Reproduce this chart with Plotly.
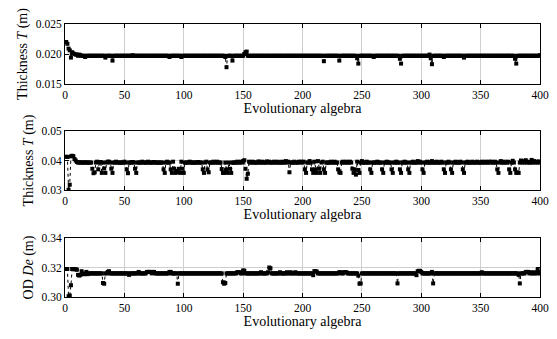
import plotly.graph_objects as go

# Panel 1: Thickness T (m), generations 1..400
thickness_t1 = [
    0.0220, 0.0217, 0.0209, 0.0206, 0.0194, 0.0203, 0.0201, 0.0200, 0.0199, 0.0199,
    0.0197, 0.0199, 0.0198, 0.0197, 0.0197, 0.0197, 0.0195, 0.0197, 0.0197, 0.0197,
    0.0197, 0.0197, 0.0197, 0.0197, 0.0197, 0.0197, 0.0197, 0.0197, 0.0197, 0.0197,
    0.0197, 0.0197, 0.0197, 0.0194, 0.0197, 0.0197, 0.0197, 0.0197, 0.0197, 0.0189,
    0.0197, 0.0197, 0.0197, 0.0197, 0.0197, 0.0197, 0.0197, 0.0197, 0.0197, 0.0197,
    0.0197, 0.0197, 0.0197, 0.0197, 0.0197, 0.0197, 0.0198, 0.0197, 0.0197, 0.0197,
    0.0197, 0.0197, 0.0197, 0.0197, 0.0197, 0.0197, 0.0197, 0.0197, 0.0197, 0.0197,
    0.0197, 0.0197, 0.0197, 0.0197, 0.0197, 0.0197, 0.0197, 0.0197, 0.0197, 0.0197,
    0.0197, 0.0197, 0.0197, 0.0197, 0.0197, 0.0197, 0.0197, 0.0195, 0.0197, 0.0197,
    0.0197, 0.0197, 0.0197, 0.0197, 0.0197, 0.0197, 0.0197, 0.0195, 0.0197, 0.0197,
    0.0197, 0.0197, 0.0197, 0.0197, 0.0197, 0.0197, 0.0197, 0.0197, 0.0197, 0.0197,
    0.0197, 0.0197, 0.0197, 0.0197, 0.0197, 0.0197, 0.0197, 0.0197, 0.0197, 0.0197,
    0.0197, 0.0197, 0.0197, 0.0197, 0.0197, 0.0197, 0.0197, 0.0197, 0.0197, 0.0197,
    0.0197, 0.0197, 0.0197, 0.0197, 0.0195, 0.0178, 0.0197, 0.0197, 0.0197, 0.0197,
    0.0189, 0.0197, 0.0197, 0.0197, 0.0197, 0.0197, 0.0197, 0.0197, 0.0197, 0.0197,
    0.0200, 0.0203, 0.0204, 0.0197, 0.0197, 0.0197, 0.0197, 0.0197, 0.0197, 0.0197,
    0.0197, 0.0197, 0.0197, 0.0197, 0.0197, 0.0197, 0.0197, 0.0197, 0.0197, 0.0197,
    0.0197, 0.0197, 0.0197, 0.0197, 0.0197, 0.0197, 0.0197, 0.0197, 0.0197, 0.0197,
    0.0197, 0.0197, 0.0197, 0.0197, 0.0197, 0.0197, 0.0197, 0.0197, 0.0197, 0.0197,
    0.0197, 0.0197, 0.0197, 0.0197, 0.0197, 0.0197, 0.0197, 0.0197, 0.0197, 0.0197,
    0.0197, 0.0197, 0.0197, 0.0197, 0.0197, 0.0197, 0.0197, 0.0197, 0.0197, 0.0197,
    0.0197, 0.0197, 0.0197, 0.0197, 0.0197, 0.0197, 0.0197, 0.0188, 0.0197, 0.0197,
    0.0197, 0.0197, 0.0197, 0.0197, 0.0197, 0.0197, 0.0197, 0.0197, 0.0197, 0.0197,
    0.0189, 0.0197, 0.0197, 0.0197, 0.0197, 0.0197, 0.0197, 0.0197, 0.0197, 0.0197,
    0.0197, 0.0197, 0.0197, 0.0197, 0.0197, 0.0193, 0.0184, 0.0197, 0.0197, 0.0197,
    0.0197, 0.0197, 0.0197, 0.0197, 0.0197, 0.0197, 0.0197, 0.0197, 0.0197, 0.0195,
    0.0197, 0.0197, 0.0197, 0.0197, 0.0197, 0.0197, 0.0197, 0.0197, 0.0197, 0.0197,
    0.0197, 0.0197, 0.0197, 0.0197, 0.0197, 0.0197, 0.0197, 0.0197, 0.0197, 0.0197,
    0.0197, 0.0192, 0.0184, 0.0197, 0.0197, 0.0197, 0.0197, 0.0197, 0.0197, 0.0197,
    0.0197, 0.0197, 0.0197, 0.0197, 0.0197, 0.0197, 0.0197, 0.0197, 0.0197, 0.0197,
    0.0197, 0.0197, 0.0197, 0.0197, 0.0197, 0.0197, 0.0199, 0.0193, 0.0183, 0.0197,
    0.0197, 0.0197, 0.0197, 0.0197, 0.0197, 0.0197, 0.0197, 0.0197, 0.0195, 0.0197,
    0.0197, 0.0197, 0.0197, 0.0197, 0.0197, 0.0197, 0.0197, 0.0197, 0.0197, 0.0197,
    0.0197, 0.0197, 0.0197, 0.0197, 0.0197, 0.0194, 0.0197, 0.0197, 0.0197, 0.0197,
    0.0197, 0.0197, 0.0197, 0.0197, 0.0197, 0.0197, 0.0197, 0.0197, 0.0197, 0.0197,
    0.0197, 0.0197, 0.0197, 0.0197, 0.0197, 0.0197, 0.0197, 0.0197, 0.0197, 0.0197,
    0.0197, 0.0197, 0.0197, 0.0197, 0.0197, 0.0197, 0.0197, 0.0197, 0.0197, 0.0197,
    0.0197, 0.0197, 0.0197, 0.0197, 0.0197, 0.0197, 0.0197, 0.0197, 0.0192, 0.0184,
    0.0197, 0.0197, 0.0197, 0.0197, 0.0197, 0.0197, 0.0197, 0.0197, 0.0197, 0.0197,
    0.0197, 0.0197, 0.0197, 0.0197, 0.0197, 0.0197, 0.0197, 0.0197, 0.0197, 0.0198,
]

# Panel 2: Thickness T (m)
thickness_t2 = [
    0.0413, 0.0412, 0.0301, 0.0318, 0.0414, 0.0416, 0.0415, 0.0405, 0.0400, 0.0395,
    0.0393, 0.0393, 0.0394, 0.0393, 0.0393, 0.0393, 0.0394, 0.0393, 0.0393, 0.0393,
    0.0393, 0.0393, 0.0372, 0.0357, 0.0360, 0.0393, 0.0396, 0.0370, 0.0393, 0.0395,
    0.0358, 0.0393, 0.0373, 0.0358, 0.0393, 0.0396, 0.0396, 0.0393, 0.0372, 0.0358,
    0.0393, 0.0393, 0.0396, 0.0393, 0.0393, 0.0393, 0.0393, 0.0393, 0.0393, 0.0396,
    0.0393, 0.0370, 0.0357, 0.0393, 0.0393, 0.0393, 0.0395, 0.0393, 0.0372, 0.0358,
    0.0393, 0.0393, 0.0393, 0.0393, 0.0396, 0.0393, 0.0393, 0.0393, 0.0393, 0.0396,
    0.0393, 0.0393, 0.0393, 0.0393, 0.0395, 0.0393, 0.0393, 0.0393, 0.0393, 0.0393,
    0.0393, 0.0393, 0.0370, 0.0358, 0.0393, 0.0396, 0.0393, 0.0393, 0.0370, 0.0358,
    0.0396, 0.0372, 0.0358, 0.0365, 0.0360, 0.0372, 0.0358, 0.0396, 0.0372, 0.0358,
    0.0393, 0.0393, 0.0393, 0.0393, 0.0396, 0.0393, 0.0393, 0.0393, 0.0393, 0.0393,
    0.0393, 0.0395, 0.0393, 0.0393, 0.0393, 0.0370, 0.0358, 0.0393, 0.0396, 0.0370,
    0.0360, 0.0393, 0.0393, 0.0393, 0.0396, 0.0393, 0.0393, 0.0396, 0.0393, 0.0393,
    0.0393, 0.0371, 0.0358, 0.0358, 0.0393, 0.0370, 0.0358, 0.0393, 0.0372, 0.0358,
    0.0393, 0.0393, 0.0393, 0.0393, 0.0396, 0.0393, 0.0393, 0.0396, 0.0393, 0.0398,
    0.0401, 0.0372, 0.0338, 0.0355, 0.0396, 0.0393, 0.0393, 0.0396, 0.0393, 0.0393,
    0.0393, 0.0393, 0.0397, 0.0393, 0.0393, 0.0396, 0.0393, 0.0393, 0.0393, 0.0397,
    0.0393, 0.0396, 0.0393, 0.0393, 0.0393, 0.0396, 0.0393, 0.0393, 0.0396, 0.0393,
    0.0393, 0.0393, 0.0396, 0.0393, 0.0393, 0.0398, 0.0393, 0.0396, 0.0360, 0.0393,
    0.0393, 0.0393, 0.0396, 0.0393, 0.0393, 0.0393, 0.0396, 0.0393, 0.0396, 0.0393,
    0.0396, 0.0370, 0.0358, 0.0393, 0.0393, 0.0398, 0.0393, 0.0370, 0.0358, 0.0396,
    0.0370, 0.0358, 0.0398, 0.0372, 0.0358, 0.0393, 0.0396, 0.0370, 0.0358, 0.0393,
    0.0393, 0.0393, 0.0393, 0.0396, 0.0393, 0.0393, 0.0396, 0.0393, 0.0393, 0.0370,
    0.0360, 0.0358, 0.0393, 0.0396, 0.0393, 0.0393, 0.0396, 0.0393, 0.0393, 0.0396,
    0.0393, 0.0372, 0.0358, 0.0370, 0.0352, 0.0396, 0.0368, 0.0358, 0.0393, 0.0398,
    0.0393, 0.0393, 0.0393, 0.0396, 0.0393, 0.0393, 0.0370, 0.0358, 0.0393, 0.0393,
    0.0393, 0.0393, 0.0396, 0.0393, 0.0393, 0.0393, 0.0370, 0.0358, 0.0393, 0.0393,
    0.0396, 0.0393, 0.0393, 0.0393, 0.0370, 0.0358, 0.0393, 0.0393, 0.0396, 0.0393,
    0.0393, 0.0370, 0.0358, 0.0393, 0.0393, 0.0396, 0.0393, 0.0393, 0.0370, 0.0358,
    0.0393, 0.0393, 0.0396, 0.0393, 0.0393, 0.0393, 0.0398, 0.0393, 0.0396, 0.0393,
    0.0370, 0.0358, 0.0393, 0.0393, 0.0396, 0.0393, 0.0393, 0.0393, 0.0398, 0.0393,
    0.0393, 0.0393, 0.0396, 0.0393, 0.0393, 0.0393, 0.0396, 0.0393, 0.0370, 0.0358,
    0.0393, 0.0393, 0.0396, 0.0393, 0.0370, 0.0358, 0.0393, 0.0393, 0.0396, 0.0393,
    0.0393, 0.0393, 0.0396, 0.0393, 0.0370, 0.0358, 0.0393, 0.0393, 0.0396, 0.0393,
    0.0393, 0.0393, 0.0396, 0.0393, 0.0393, 0.0393, 0.0396, 0.0393, 0.0393, 0.0393,
    0.0396, 0.0393, 0.0393, 0.0396, 0.0393, 0.0393, 0.0396, 0.0393, 0.0396, 0.0393,
    0.0393, 0.0396, 0.0393, 0.0370, 0.0358, 0.0393, 0.0398, 0.0393, 0.0393, 0.0396,
    0.0393, 0.0393, 0.0396, 0.0370, 0.0358, 0.0393, 0.0399, 0.0393, 0.0370, 0.0358,
    0.0360, 0.0358, 0.0393, 0.0400, 0.0393, 0.0398, 0.0393, 0.0401, 0.0393, 0.0396,
    0.0393, 0.0393, 0.0402, 0.0393, 0.0398, 0.0393, 0.0396, 0.0393, 0.0397, 0.0393,
]

# Panel 3: OD De (m)
od_de = [
    0.3190, 0.3190, 0.3005, 0.3010, 0.3080, 0.3190, 0.3190, 0.3188, 0.3188, 0.3185,
    0.3150, 0.3145, 0.3150, 0.3175, 0.3155, 0.3160, 0.3155, 0.3170, 0.3155, 0.3160,
    0.3160, 0.3160, 0.3160, 0.3160, 0.3160, 0.3160, 0.3160, 0.3160, 0.3160, 0.3160,
    0.3160, 0.3095, 0.3090, 0.3160, 0.3160, 0.3170, 0.3175, 0.3160, 0.3160, 0.3160,
    0.3160, 0.3160, 0.3160, 0.3160, 0.3160, 0.3160, 0.3160, 0.3160, 0.3160, 0.3160,
    0.3160, 0.3160, 0.3160, 0.3150, 0.3160, 0.3160, 0.3160, 0.3160, 0.3160, 0.3160,
    0.3160, 0.3170, 0.3160, 0.3160, 0.3160, 0.3160, 0.3160, 0.3160, 0.3170, 0.3170,
    0.3170, 0.3170, 0.3160, 0.3170, 0.3170, 0.3160, 0.3160, 0.3160, 0.3160, 0.3160,
    0.3160, 0.3160, 0.3160, 0.3160, 0.3160, 0.3160, 0.3160, 0.3170, 0.3170, 0.3160,
    0.3160, 0.3160, 0.3160, 0.3160, 0.3090, 0.3160, 0.3160, 0.3160, 0.3160, 0.3160,
    0.3160, 0.3160, 0.3160, 0.3160, 0.3160, 0.3160, 0.3160, 0.3160, 0.3160, 0.3160,
    0.3160, 0.3160, 0.3160, 0.3160, 0.3160, 0.3160, 0.3160, 0.3160, 0.3160, 0.3160,
    0.3160, 0.3160, 0.3160, 0.3160, 0.3160, 0.3160, 0.3160, 0.3160, 0.3160, 0.3160,
    0.3160, 0.3160, 0.3100, 0.3090, 0.3095, 0.3160, 0.3160, 0.3160, 0.3160, 0.3160,
    0.3160, 0.3160, 0.3160, 0.3160, 0.3168, 0.3168, 0.3168, 0.3160, 0.3160, 0.3180,
    0.3178, 0.3160, 0.3160, 0.3160, 0.3160, 0.3160, 0.3160, 0.3160, 0.3160, 0.3160,
    0.3160, 0.3160, 0.3160, 0.3160, 0.3168, 0.3160, 0.3160, 0.3160, 0.3160, 0.3160,
    0.3168, 0.3200, 0.3195, 0.3160, 0.3160, 0.3160, 0.3160, 0.3160, 0.3160, 0.3160,
    0.3168, 0.3160, 0.3160, 0.3160, 0.3160, 0.3160, 0.3168, 0.3160, 0.3160, 0.3168,
    0.3160, 0.3160, 0.3160, 0.3168, 0.3160, 0.3160, 0.3160, 0.3160, 0.3160, 0.3160,
    0.3160, 0.3160, 0.3160, 0.3160, 0.3160, 0.3160, 0.3160, 0.3160, 0.3148, 0.3175,
    0.3175, 0.3172, 0.3160, 0.3160, 0.3160, 0.3160, 0.3160, 0.3160, 0.3160, 0.3160,
    0.3160, 0.3160, 0.3160, 0.3160, 0.3160, 0.3160, 0.3160, 0.3160, 0.3160, 0.3160,
    0.3168, 0.3168, 0.3160, 0.3160, 0.3168, 0.3168, 0.3168, 0.3160, 0.3160, 0.3160,
    0.3160, 0.3160, 0.3160, 0.3160, 0.3160, 0.3160, 0.3145, 0.3090, 0.3092, 0.3160,
    0.3160, 0.3160, 0.3160, 0.3160, 0.3160, 0.3160, 0.3160, 0.3160, 0.3160, 0.3160,
    0.3160, 0.3160, 0.3160, 0.3160, 0.3160, 0.3160, 0.3160, 0.3160, 0.3160, 0.3160,
    0.3160, 0.3160, 0.3160, 0.3160, 0.3160, 0.3160, 0.3160, 0.3160, 0.3160, 0.3092,
    0.3160, 0.3160, 0.3160, 0.3160, 0.3160, 0.3160, 0.3160, 0.3160, 0.3160, 0.3160,
    0.3160, 0.3160, 0.3160, 0.3160, 0.3160, 0.3148, 0.3175, 0.3178, 0.3176, 0.3170,
    0.3160, 0.3160, 0.3160, 0.3160, 0.3160, 0.3160, 0.3160, 0.3160, 0.3170, 0.3092,
    0.3160, 0.3160, 0.3160, 0.3160, 0.3160, 0.3160, 0.3160, 0.3160, 0.3160, 0.3160,
    0.3160, 0.3160, 0.3160, 0.3160, 0.3160, 0.3160, 0.3160, 0.3160, 0.3160, 0.3160,
    0.3160, 0.3160, 0.3160, 0.3160, 0.3160, 0.3160, 0.3160, 0.3160, 0.3160, 0.3160,
    0.3160, 0.3160, 0.3160, 0.3160, 0.3160, 0.3160, 0.3160, 0.3160, 0.3160, 0.3160,
    0.3168, 0.3160, 0.3160, 0.3160, 0.3160, 0.3160, 0.3160, 0.3160, 0.3160, 0.3160,
    0.3160, 0.3160, 0.3160, 0.3160, 0.3160, 0.3160, 0.3160, 0.3160, 0.3160, 0.3160,
    0.3160, 0.3160, 0.3160, 0.3160, 0.3160, 0.3160, 0.3160, 0.3160, 0.3160, 0.3160,
    0.3160, 0.3150, 0.3092, 0.3160, 0.3160, 0.3160, 0.3160, 0.3170, 0.3170, 0.3170,
    0.3160, 0.3168, 0.3160, 0.3160, 0.3168, 0.3160, 0.3160, 0.3185, 0.3168, 0.3160,
]

x_ticks = [0, 50, 100, 150, 200, 250, 300, 350, 400]
y_ticks_1 = [0.015, 0.020, 0.025]
y_ticks_2 = [0.03, 0.04, 0.05]
y_ticks_3 = [0.30, 0.32, 0.34]
x_title = "Evolutionary algebra"
y_titles = ["Thickness <i>T</i> (m)", "Thickness <i>T</i> (m)", "OD <i>De</i> (m)"]

# The page body has an 8 px margin, so the figure is drawn 8 px in from the
# top-left corner of the 557x339 window.
OFF = 8
W, H = 557 - 2 * OFF, 339 - 2 * OFF
FONT = "Liberation Serif"

panels = [
    (thickness_t1, y_ticks_1, ".3f", (24, 84)),
    (thickness_t2, y_ticks_2, ".2f", (131, 190)),
    (od_de, y_ticks_3, ".2f", (238, 297)),
]

fig = go.Figure()
x0, x1 = (65 - OFF) / W, (540 - OFF) / W
for i, (vals, yt, fmt, (top, bot)) in enumerate(panels):
    n = i + 1
    xa = "x" if n == 1 else f"x{n}"
    ya = "y" if n == 1 else f"y{n}"
    fig.add_trace(go.Scatter(
        x=list(range(1, len(vals) + 1)), y=vals, xaxis=xa, yaxis=ya,
        mode="lines+markers",
        line=dict(color="black", width=1, dash="dot"),
        marker=dict(symbol="square", size=4, color="black"),
        showlegend=False, hoverinfo="skip",
    ))
    axis_common = dict(
        showline=True, linecolor="black", linewidth=1, mirror="ticks",
        ticks="inside", ticklen=4, tickcolor="black",
        showgrid=True, gridcolor="#cfcfcf", gridwidth=1,
        zeroline=False, automargin=False,
        tickfont=dict(family=FONT, size=11.5, color="black"),
    )
    fig.layout[f"xaxis{'' if n == 1 else n}"] = dict(
        axis_common, domain=[x0, x1], anchor=ya, range=[0, 400],
        tickvals=x_ticks,
        title=dict(text=x_title, font=dict(family=FONT, size=14, color="black"), standoff=2),
    )
    fig.layout[f"yaxis{'' if n == 1 else n}"] = dict(
        axis_common,
        domain=[(H - (bot - OFF)) / H, (H - (top - OFF)) / H], anchor=xa,
        range=[yt[0], yt[-1]], tickvals=yt, tickformat=fmt,
        title=dict(text=y_titles[i], font=dict(family=FONT, size=14, color="black"), standoff=4),
    )

fig.update_layout(
    width=W, height=H,
    margin=dict(l=0, r=0, t=0, b=0),
    paper_bgcolor="white", plot_bgcolor="white",
    font=dict(family=FONT, color="black"),
)

fig.write_html("out.html")
